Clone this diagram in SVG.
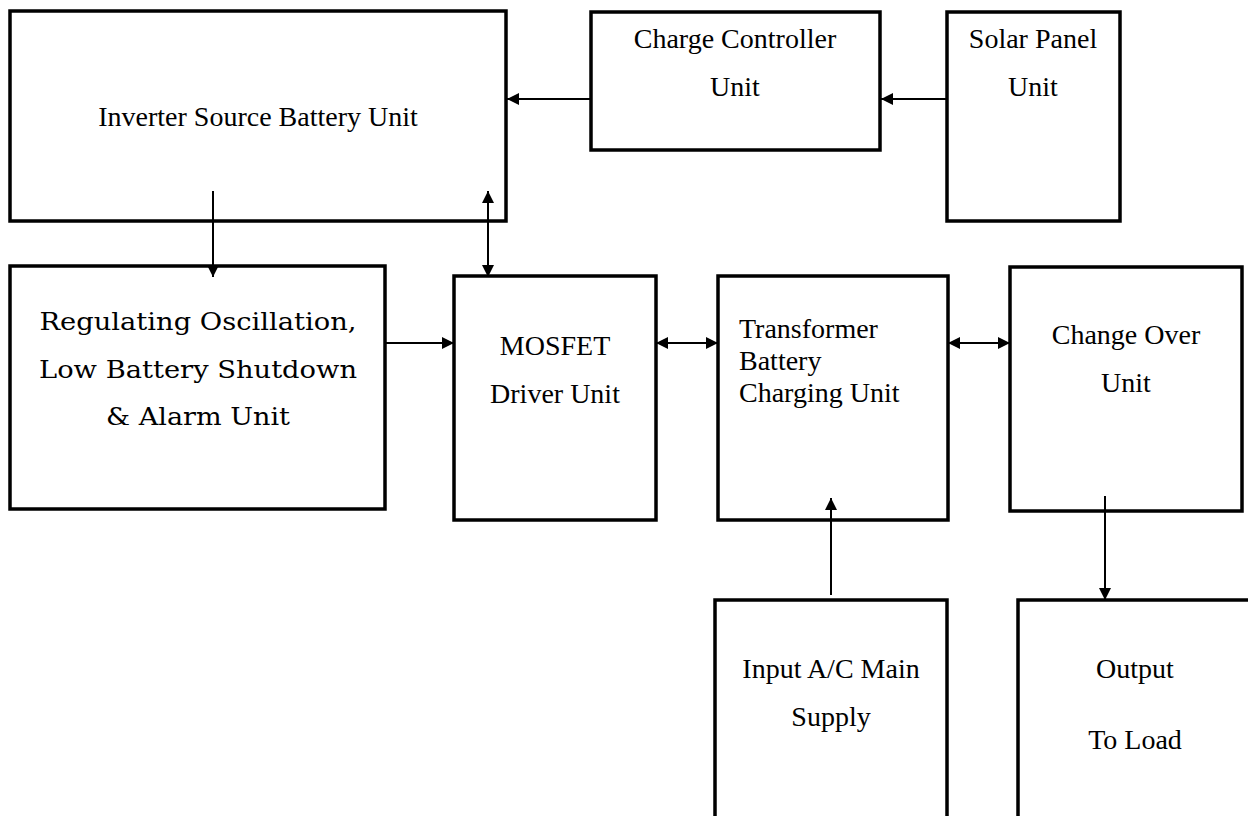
<svg xmlns="http://www.w3.org/2000/svg" width="1248" height="816" viewBox="0 0 1248 816">
<style>
.box{fill:#fff;stroke:#000;stroke-width:3.5}
.t{font-family:"Liberation Serif","Times New Roman",serif;font-size:28px;fill:#000}
.c{text-anchor:middle}
.b{font-family:"DejaVu Serif",serif;font-size:25px;fill:#000;text-anchor:middle}
.ln{stroke:#000;stroke-width:2;fill:none}
</style>
<defs>
<marker id="ah" markerUnits="userSpaceOnUse" markerWidth="12" markerHeight="12" refX="12" refY="6" orient="auto-start-reverse">
<path d="M0,0 L12,6 L0,12 z" fill="#000"/>
</marker>
</defs>
<rect width="1248" height="816" fill="#fff"/>
<g id="inverter"><rect class="box" x="10" y="11" width="496" height="210"/><text class="t c" x="258" y="126">Inverter Source Battery Unit</text></g>
<g id="charge"><rect class="box" x="591" y="12" width="289" height="138"/><text class="t c" x="735" y="48">Charge Controller</text><text class="t c" x="735" y="96">Unit</text></g>
<g id="solar"><rect class="box" x="947" y="12" width="173" height="209"/><text class="t c" x="1033" y="48">Solar Panel</text><text class="t c" x="1033" y="96">Unit</text></g>
<g id="regulating"><rect class="box" x="10" y="266" width="375" height="243"/><text class="b" x="198" y="330" textLength="317" lengthAdjust="spacingAndGlyphs">Regulating Oscillation,</text><text class="b" x="198" y="378" textLength="318" lengthAdjust="spacingAndGlyphs">Low Battery Shutdown</text><text class="b" x="198" y="425" textLength="184" lengthAdjust="spacingAndGlyphs">&amp; Alarm Unit</text></g>
<g id="mosfet"><rect class="box" x="454" y="276" width="202" height="244"/><text class="t c" x="555" y="355">MOSFET</text><text class="t c" x="555" y="403">Driver Unit</text></g>
<g id="transformer"><rect class="box" x="718" y="276" width="230" height="244"/><text class="t" x="739" y="338">Transformer</text><text class="t" x="739" y="370">Battery</text><text class="t" x="739" y="402">Charging Unit</text></g>
<g id="changeover"><rect class="box" x="1010" y="267" width="232" height="244"/><text class="t c" x="1126" y="344">Change Over</text><text class="t c" x="1126" y="392">Unit</text></g>
<g id="input"><rect class="box" x="715" y="600" width="232" height="230"/><text class="t c" x="831" y="678">Input A/C Main</text><text class="t c" x="831" y="726">Supply</text></g>
<g id="output"><rect class="box" x="1018" y="600" width="234" height="230"/><text class="t c" x="1135" y="678">Output</text><text class="t c" x="1135" y="749">To Load</text></g>
<g id="connectors">
<line class="ln" x1="591" y1="99" x2="507" y2="99" marker-end="url(#ah)"/>
<line class="ln" x1="947" y1="99" x2="881" y2="99" marker-end="url(#ah)"/>
<line class="ln" x1="213" y1="191" x2="213" y2="277" marker-end="url(#ah)"/>
<line class="ln" x1="488" y1="191" x2="488" y2="277" marker-start="url(#ah)" marker-end="url(#ah)"/>
<line class="ln" x1="385" y1="343" x2="454" y2="343" marker-end="url(#ah)"/>
<line class="ln" x1="656" y1="343" x2="718" y2="343" marker-start="url(#ah)" marker-end="url(#ah)"/>
<line class="ln" x1="948" y1="343" x2="1010" y2="343" marker-start="url(#ah)" marker-end="url(#ah)"/>
<line class="ln" x1="831" y1="595" x2="831" y2="498" marker-end="url(#ah)"/>
<line class="ln" x1="1105" y1="496" x2="1105" y2="600" marker-end="url(#ah)"/>
</g>
</svg>
